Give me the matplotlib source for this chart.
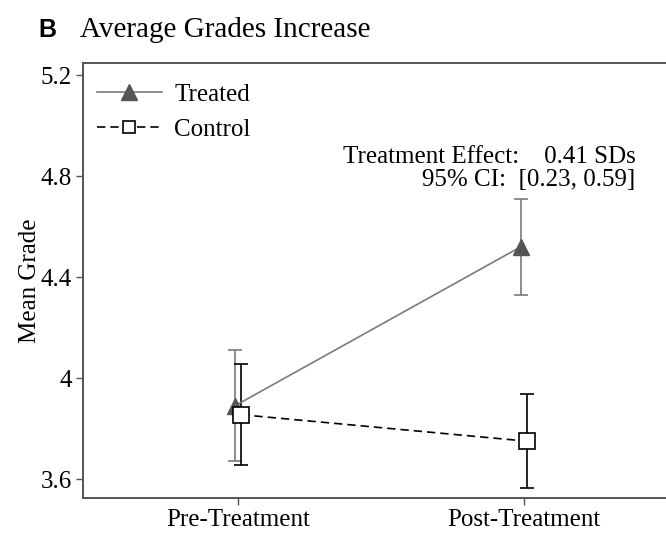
import matplotlib
matplotlib.use("Agg")
import matplotlib.pyplot as plt
from matplotlib.lines import Line2D

# Data
periods = ["Pre-Treatment", "Post-Treatment"]
treated_mean = [3.89, 4.52]
treated_err = [0.22, 0.19]
control_mean = [3.855, 3.75]
control_err = [0.20, 0.187]
yticks = [3.6, 4.0, 4.4, 4.8, 5.2]
ytick_labels = ["3.6", "4", "4.4", "4.8", "5.2"]

W, H = 666, 535
fig = plt.figure(figsize=(W / 100, H / 100), dpi=100)
ax = fig.add_axes([83 / W, (H - 498) / H, (666 - 83) / W, (498 - 63) / H])

serif = ["Liberation Serif", "DejaVu Serif"]
x = [0, 1]
off = 0.011
xt = [v - off for v in x]
xc = [v + off for v in x]

tcol = "#555555"
lcol = "#7a7a7a"
ax.errorbar(xt, treated_mean, yerr=treated_err, color=lcol, ecolor=lcol,
            elinewidth=1.2, capsize=5, capthick=1.2, lw=1.2, marker="^", ms=12,
            mfc=tcol, mec=tcol, zorder=3)
ax.errorbar(xc, control_mean, yerr=control_err, color="black", ecolor="black",
            elinewidth=1.2, capsize=5, capthick=1.2, lw=1.2, ls=(0, (5, 3)), marker="s", ms=11,
            mfc="white", mec="black", mew=1.2, zorder=3)

ax.set_xlim(-0.542, 1.497)
ax.set_ylim(3.525, 5.248)
ax.set_xticks(x)
ax.set_xticklabels(periods, fontsize=18, family=serif)
ax.set_yticks(yticks)
ax.set_yticklabels(ytick_labels, fontsize=18, family=serif)
ax.set_ylabel("Mean Grade", fontsize=18, family=serif, labelpad=0)

for s in ["left", "bottom", "top"]:
    ax.spines[s].set_color("#555555")
    ax.spines[s].set_linewidth(1.4)
ax.spines["right"].set_visible(False)
ax.tick_params(axis="both", color="#555555", length=5, width=1, pad=3)

handles = [
    Line2D([], [], color=lcol, lw=1.2, marker="^", ms=12, mfc=tcol, mec=tcol),
    Line2D([], [], color="black", lw=1.2, ls=(0, (5, 3)), marker="s", ms=9,
           mfc="white", mec="black", mew=1.2),
]
ax.legend(handles, ["Treated", "Control"], loc="upper left", bbox_to_anchor=(-0.011, 1.0),
          frameon=False, prop={"family": serif, "size": 18}, handlelength=2.6,
          borderaxespad=0.5, borderpad=0.3, handletextpad=0.5, labelspacing=0.5)

ax.text(1.39, 4.875, "Treatment Effect:    0.41 SDs", ha="right", va="center",
        fontsize=18, family=serif)
ax.text(1.39, 4.785, "95% CI:  [0.23, 0.59]", ha="right", va="center",
        fontsize=18, family=serif)

fig.text(38 / W, 1 - 30 / H, "B", fontsize=18, fontweight="bold",
         family=["Liberation Sans", "DejaVu Sans"], va="center", ha="left")
fig.text(80 / W, 1 - 30 / H, "Average Grades Increase", fontsize=21, family=serif,
         va="center", ha="left")

fig.savefig("out.png", dpi=100)
